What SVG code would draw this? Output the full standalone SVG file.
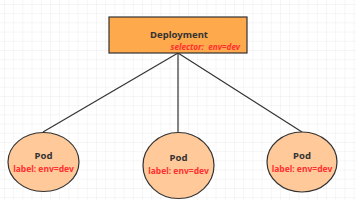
<svg xmlns="http://www.w3.org/2000/svg" width="356" height="200" viewBox="0 0 356 200">
<defs>
<pattern id="g" x="4" y="4" width="9.2" height="9.2" patternUnits="userSpaceOnUse">
<path d="M0 0H9.2M0 0V9.2" fill="none" stroke="#ececec" stroke-width="1"/>
</pattern>
<style>
.pod{fill:#FFC99A;stroke:#333;stroke-width:1.2}
.t{font-family:"Noto Sans",sans-serif;font-weight:bold;text-anchor:middle}
.n{font-size:9.5px;fill:#333}
.r{font-size:8.5px;fill:#FF3030}
.c{stroke:#333;stroke-width:1.2;fill:none}
</style>
</defs>
<rect width="356" height="200" fill="#fff"/>
<rect width="356" height="200" fill="url(#g)"/>
<g id="connectors">
<line class="c" x1="178" y1="53" x2="43" y2="132"/>
<line class="c" x1="178" y1="53" x2="178" y2="132"/>
<line class="c" x1="178" y1="53" x2="302" y2="132"/>
</g>
<g id="deployment">
<rect x="109" y="17" width="138" height="36" fill="#FFA94D" stroke="#333" stroke-width="1.2"/>
<text class="t n" x="179" y="38">Deployment</text>
<text x="240" y="50" font-family="Noto Sans,sans-serif" font-weight="bold" font-style="italic" font-size="8.2" fill="#FF3030" text-anchor="end">selector:&#160; env=dev</text>
</g>
<g id="pod1">
<ellipse class="pod" cx="43.5" cy="162" rx="35.5" ry="29.5"/>
<text class="t n" x="43.5" y="159">Pod</text>
<text class="t r" x="43.5" y="172">label: env=dev</text>
</g>
<g id="pod2">
<ellipse class="pod" cx="178.5" cy="165.5" rx="35.5" ry="33"/>
<text class="t n" x="178.5" y="161">Pod</text>
<text class="t r" x="178.5" y="174">label: env=dev</text>
</g>
<g id="pod3">
<ellipse class="pod" cx="302" cy="162" rx="35" ry="30"/>
<text class="t n" x="302" y="159">Pod</text>
<text class="t r" x="302" y="172">label: env=dev</text>
</g>
</svg>
